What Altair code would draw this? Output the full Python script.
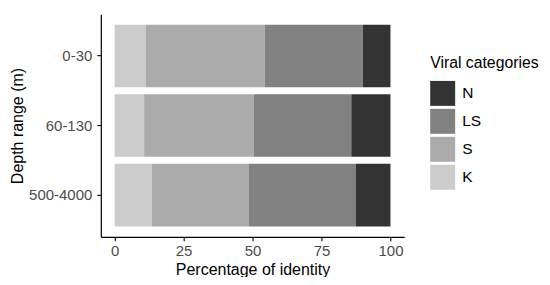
import altair as alt
import pandas as pd

depths = ["0-30", "60-130", "500-4000"]
categories = ["N", "LS", "S", "K"]
colors = ["#333333", "#818181", "#ababab", "#cccccc"]
K = [11.3, 10.7, 13.5]
S = [43.1, 39.7, 35.2]
LS = [35.6, 35.4, 38.8]
N = [10.0, 14.2, 12.5]
x_ticks = [0, 25, 50, 75, 100]

stack_pos = {"K": 0, "S": 1, "LS": 2, "N": 3}
series = {"K": K, "S": S, "LS": LS, "N": N}
rows = []
for cat, vals in series.items():
    for d, v in zip(depths, vals):
        rows.append({"depth": d, "category": cat, "value": v, "ord": stack_pos[cat]})
df = pd.DataFrame(rows)

FONT = "Liberation Sans"

chart = alt.Chart(df).mark_bar(strokeWidth=0).encode(
    x=alt.X("value:Q", stack="zero",
            scale=alt.Scale(domain=[-5, 105], nice=False, zero=False),
            axis=alt.Axis(title="Percentage of identity", values=x_ticks, grid=False,
                          domainColor="black", domainWidth=1.2, tickColor="black",
                          tickWidth=1.1, tickSize=4, labelPadding=3, labelFont=FONT,
                          labelFontSize=15, labelColor="#4d4d4d", titleFont=FONT,
                          titleFontSize=16, titleFontWeight="normal", titleColor="black",
                          titleY=38, titleBaseline="alphabetic")),
    y=alt.Y("depth:N", sort=depths,
            scale=alt.Scale(paddingInner=0.1, paddingOuter=0.15),
            axis=alt.Axis(title="Depth range (m)", grid=False, domainColor="black",
                          domainWidth=1.2, tickColor="black", tickWidth=1.1, tickSize=4,
                          labelPadding=5, labelFont=FONT, labelFontSize=15,
                          labelColor="#4d4d4d", titleFont=FONT, titleFontSize=16,
                          titleFontWeight="normal", titleColor="black", titleAngle=-90,
                          titleX=-78, titleY=111.5, titleAlign="center",
                          titleBaseline="alphabetic")),
    color=alt.Color("category:N",
                    scale=alt.Scale(domain=categories, range=colors),
                    legend=alt.Legend(title="Viral categories", orient="none",
                                      legendX=330, legendY=42, padding=0,
                                      symbolType="square", symbolSize=625,
                                      symbolStrokeWidth=0, symbolOpacity=1,
                                      rowPadding=3, titlePadding=9, labelOffset=7,
                                      labelFont=FONT, labelFontSize=15.5,
                                      labelColor="black", titleFont=FONT,
                                      titleFontSize=15.8, titleFontWeight="normal",
                                      titleColor="black")),
    order=alt.Order("ord:Q", sort="ascending"),
).properties(
    width=304, height=223,
    autosize=alt.AutoSizeParams(type="none"),
    padding={"left": 93, "top": 6, "right": 138, "bottom": 40},
).configure(background="white").configure_view(stroke=None, strokeWidth=0, strokeOpacity=0)

chart.save("out.html", embed_options={"renderer": "svg", "actions": False})
